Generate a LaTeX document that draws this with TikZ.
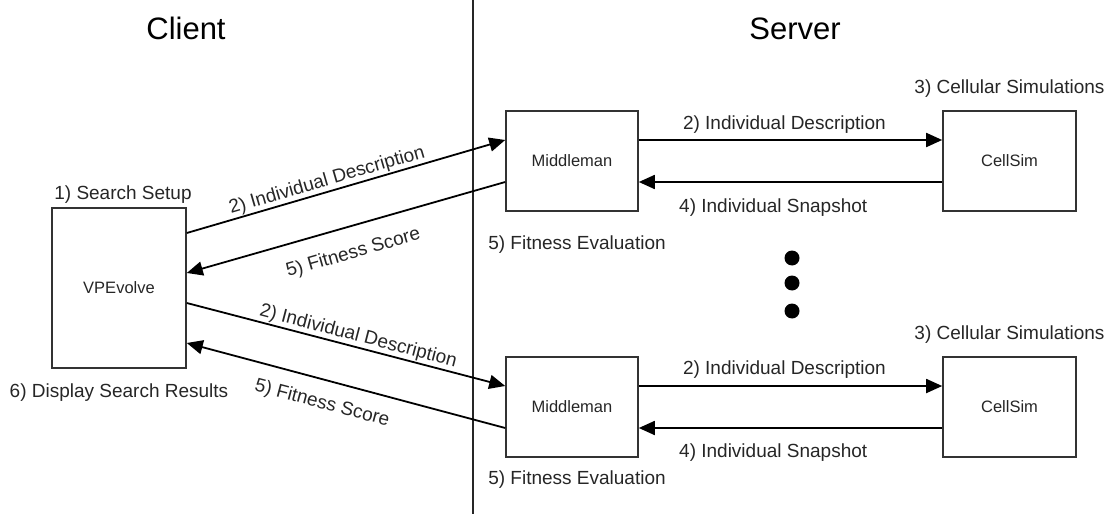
\documentclass[tikz,border=0pt]{standalone}
\usepackage{fontspec}
\setmainfont{Liberation Sans}
\usetikzlibrary{arrows.meta}
\usetikzlibrary{positioning}

\begin{document}
\begin{tikzpicture}[x=1pt,y=1pt,
  comp/.style={rectangle,draw=black!80,line width=1.6pt,minimum height=100pt,font=\fontsize{16.5}{19}\selectfont,text=black!85},
  lbl/.style={font=\fontsize{19}{22}\selectfont,text=black!85,inner sep=1pt},
  side/.style={font=\fontsize{31}{36}\selectfont,anchor=base},
  flow/.style={line width=1.8pt,-{Triangle[length=16pt,width=14pt]}}]
\useasboundingbox (0,0) rectangle (1110,515);
\draw[line width=1.8pt,black!85] (473,515) -- (473,1);
\node[side] (client) at (186,475) {Client};
\node[side] (server) at (795,475) {Server};

\node[comp,minimum width=134pt,minimum height=160pt] (vp) at (119,227) {VPEvolve};
\node[comp,minimum width=132pt] (mid1) at (572,354) {Middleman};
\node[comp,minimum width=133pt] (sim1) at (1009.5,354) {CellSim};
\node[comp,minimum width=132pt] (mid2) at (572,108) {Middleman};
\node[comp,minimum width=133pt] (sim2) at (1009.5,108) {CellSim};

\node[lbl,above=3pt of vp.north,xshift=4pt] (setup) {1) Search Setup};
\node[lbl,below=14pt of vp.south] (results) {6) Display Search Results};
\node[lbl,above=12pt of sim1.north] (cells1) {3) Cellular Simulations};
\node[lbl,above=12pt of sim2.north] (cells2) {3) Cellular Simulations};
\node[lbl,below=23pt of mid1.south,xshift=5pt] (eval1) {5) Fitness Evaluation};
\node[lbl,below=12pt of mid2.south,xshift=5pt] (eval2) {5) Fitness Evaluation};

% client <-> middlemen
\draw[flow] ([yshift=55pt]vp.east) -- node[lbl,sloped,above=0pt,pos=0.45] {2) Individual Description} ([yshift=21pt]mid1.west);
\draw[flow] ([yshift=-21pt]mid1.west) -- node[lbl,sloped,below=16pt,pos=0.5] {5) Fitness Score} ([yshift=15pt]vp.east);
\draw[flow] ([yshift=-15pt]vp.east) -- node[lbl,sloped,above=0pt,pos=0.53] {2) Individual Description} ([yshift=21pt]mid2.west);
\draw[flow] ([yshift=-21pt]mid2.west) -- node[lbl,sloped,below=13pt,pos=0.556] {5) Fitness Score} ([yshift=-55pt]vp.east);

% middlemen <-> simulations
\draw[flow] ([yshift=21pt]mid1.east) -- node[lbl,above=5pt,pos=0.48] {2) Individual Description} ([yshift=21pt]sim1.west);
\draw[flow] ([yshift=-21pt]sim1.west) -- node[lbl,below=15pt,pos=0.557] {4) Individual Snapshot} ([yshift=-21pt]mid1.east);
\draw[flow] ([yshift=21pt]mid2.east) -- node[lbl,above=6pt,pos=0.48] {2) Individual Description} ([yshift=21pt]sim2.west);
\draw[flow] ([yshift=-21pt]sim2.west) -- node[lbl,below=14pt,pos=0.557] {4) Individual Snapshot} ([yshift=-21pt]mid2.east);

\foreach \y in {257,232,204}
  \fill (792,\y) circle (7.5pt);
\end{tikzpicture}
\end{document}
